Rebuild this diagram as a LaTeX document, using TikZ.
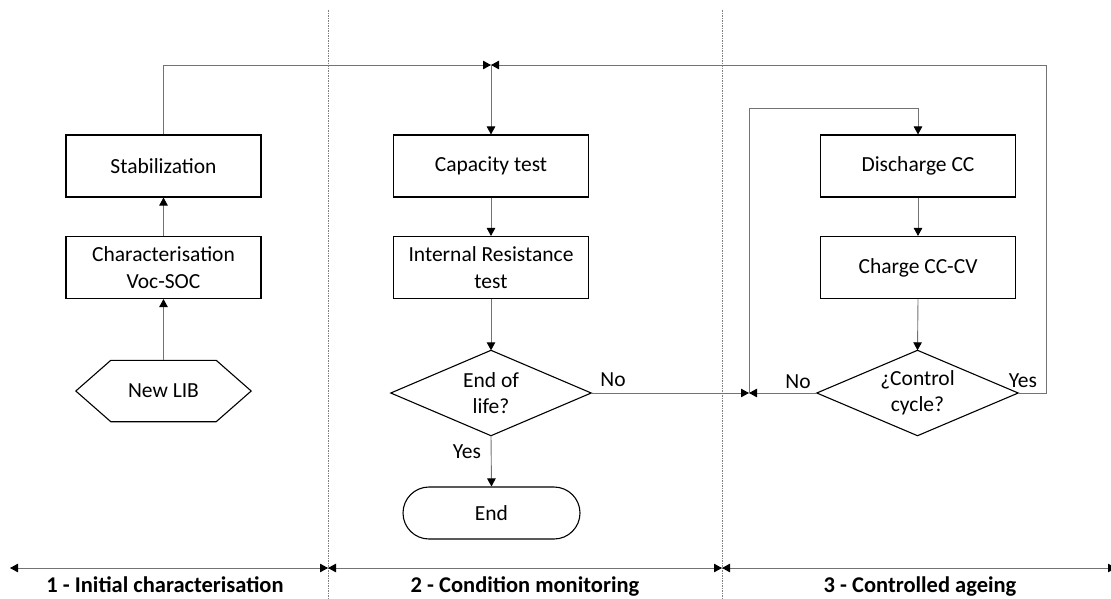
\documentclass[tikz,border=0pt]{standalone}
\usepackage{fontspec}
\setmainfont{Carlito}
\usetikzlibrary{arrows.meta,calc}
\begin{document}
\begin{tikzpicture}[x=1pt,y=-1pt,
  font=\fontsize{21.5}{26.5}\selectfont,
  box/.style={draw=black,line width=1.1pt,minimum width=195pt,minimum height=62pt,inner sep=0pt,align=center},
  shapebox/.style={draw=none,inner sep=0pt,align=center},
  conn/.style={draw=black!55,line width=0.9pt},
  arr/.style={conn,-{Triangle[length=8pt,width=8.5pt,color=black]}},
  darr/.style={conn,{Triangle[length=8pt,width=8.5pt,color=black]}-{Triangle[length=8pt,width=8.5pt,color=black]}},
  sep/.style={draw=black!50,line width=0.6pt,dash pattern=on 1.5pt off 1pt},
  lbl/.style={inner sep=0pt},
  phase/.style={font=\fontsize{22.5}{27}\selectfont\bfseries,anchor=base,inner sep=0pt}
]
\useasboundingbox (0,0) rectangle (1111,598);

% separators
\coordinate (s1t) at (328,10); \coordinate (s1b) at (328,598);
\coordinate (s2t) at (722,10); \coordinate (s2b) at (722,598);
\draw[sep] (s1t) -- (s1b);
\draw[sep] (s2t) -- (s2b);

% column 1
\node[box] (stab) at (163.5,166) {Stabilization};
\node[box] (char) at (163.5,267.5) {Characterisation\\Voc-SOC};
\node[shapebox,minimum width=175pt,minimum height=61pt] (lib) at (163.5,391) {New LIB};
\draw[line width=1.1pt] (lib.west) -- ($(lib.north west)+(35,0)$) -- ($(lib.north east)+(-35,0)$) -- (lib.east) -- ($(lib.south east)+(-35,0)$) -- ($(lib.south west)+(35,0)$) -- cycle;

% column 2
\node[box] (cap) at (491,166) {Capacity test};
\node[box] (ir) at (491,267.5) {Internal Resistance\\test};
\node[shapebox,minimum width=200pt,minimum height=85pt] (eol) at (491,393) {End of\\life?};
\draw[line width=1.1pt] (eol.north) -- (eol.east) -- (eol.south) -- (eol.west) -- cycle;
\node[draw=black,line width=1.1pt,minimum width=177pt,minimum height=52pt,rounded corners=26pt,inner sep=0pt] (end) at (491.5,513) {End};

% column 3
\node[box] (dis) at (918,166) {Discharge CC};
\node[box] (chg) at (918,267.5) {Charge CC-CV};
\node[shapebox,minimum width=201pt,minimum height=85pt] (ctl) at (917.5,393) {¿Control\\cycle?};
\draw[line width=1.1pt] (ctl.north) -- (ctl.east) -- (ctl.south) -- (ctl.west) -- cycle;

% junctions
\coordinate (topj) at (491,65);
\coordinate (midj) at (749,393);

% connectors
\draw[arr] (lib.north) -- (char.south);
\draw[arr] (char.north) -- (stab.south);
\draw[arr] (stab.north) |- (topj);
\draw[arr] (ctl.east) -- (1046,393) |- (topj);
\draw[arr] (topj) -- (cap.north);
\draw[arr] (cap.south) -- (ir.north);
\draw[arr] (ir.south) -- (eol.north);
\draw[arr] (eol.south) -- (end.north);
\draw[arr] (eol.east) -- (midj);
\draw[arr] (ctl.west) -- (midj);
\draw[arr] (midj) -- (749,108) -| (dis.north);
\draw[arr] (dis.south) -- (chg.north);
\draw[arr] (chg.south) -- (ctl.north);

% labels
\node[lbl] (yes1) at (467,452) {Yes};
\node[lbl] (no1) at (613,380) {No};
\node[lbl] (no2) at (798,382) {No};
\node[lbl] (yes2) at (1023,381) {Yes};

% bottom phase arrows
\coordinate (b0) at (10,568);
\coordinate (b1) at (328,568);
\coordinate (b2) at (722,568);
\coordinate (b3) at (1116,568);
\draw[darr] (b0) -- (b1);
\draw[darr] (b1) -- (b2);
\draw[darr] (b2) -- (b3);
\node[phase] (p1) at (165,592) {1 - Initial characterisation};
\node[phase] (p2) at (525,592) {2 - Condition monitoring};
\node[phase] (p3) at (920,592) {3 - Controlled ageing};
\end{tikzpicture}
\end{document}
